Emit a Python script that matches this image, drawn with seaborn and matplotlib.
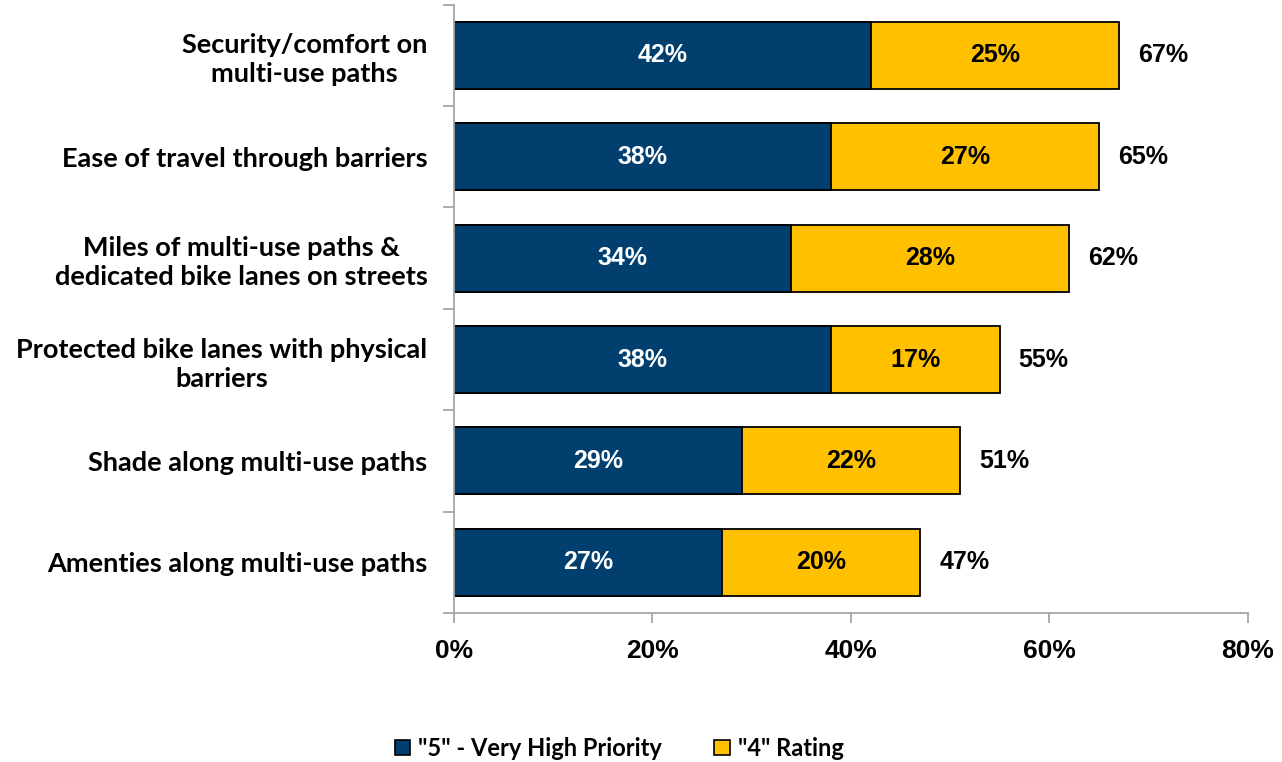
import matplotlib
matplotlib.use("Agg")
import matplotlib.pyplot as plt
import seaborn as sns
import pandas as pd
from matplotlib.patches import Patch
from matplotlib.ticker import FixedLocator

categories = [
    "Security/comfort on\nmulti-use paths",
    "Ease of travel through barriers",
    "Miles of multi-use paths &\ndedicated bike lanes on streets",
    "Protected bike lanes with physical\nbarriers",
    "Shade along multi-use paths",
    "Amenties along multi-use paths",
]
very_high = [42, 38, 34, 38, 29, 27]
rating4 = [25, 27, 28, 17, 22, 20]
totals = [67, 65, 62, 55, 51, 47]
x_ticks = [0, 20, 40, 60, 80]

NAVY = "#003F6E"
GOLD = "#FFC000"
AXIS_GRAY = "#A6A6A6"

df = pd.DataFrame({"category": categories, "very_high": very_high,
                   "rating4": rating4, "total": totals})

sns.set_theme(style="white")
plt.rcParams["font.family"] = ["Liberation Sans", "DejaVu Sans"]
plt.rcParams["text.color"] = "black"
plt.rcParams["xtick.labelcolor"] = "black"
plt.rcParams["ytick.labelcolor"] = "black"

fig = plt.figure(figsize=(12.82, 7.62), dpi=100)
ax = fig.add_axes([0.354, 0.1955, 0.6195, 0.7985])

sns.barplot(data=df, y="category", x="total", color=GOLD, orient="h",
            width=0.66, edgecolor="black", linewidth=1.3, saturation=1, ax=ax)
sns.barplot(data=df, y="category", x="very_high", color=NAVY, orient="h",
            width=0.66, edgecolor="black", linewidth=1.3, saturation=1, ax=ax)

ax.set_xlim(0, 80)
ax.set_ylim(len(categories) - 0.5, -0.5)
ax.set_xlabel("")
ax.set_ylabel("")

# Segment and total labels
for i in range(len(categories)):
    ax.text(very_high[i] / 2, i, f"{very_high[i]}%", ha="center", va="center",
            color="white", fontsize=18, fontweight="bold")
    ax.text(very_high[i] + rating4[i] / 2, i, f"{rating4[i]}%", ha="center",
            va="center", color="black", fontsize=18, fontweight="bold")
    ax.text(totals[i] + 1.9, i, f"{totals[i]}%", ha="left", va="center",
            color="black", fontsize=18, fontweight="bold")

# Axes styling
for side in ("top", "right"):
    ax.spines[side].set_visible(False)
for side in ("left", "bottom"):
    ax.spines[side].set_color(AXIS_GRAY)
    ax.spines[side].set_linewidth(1.3)

ax.set_xticks(x_ticks)
ax.set_xticklabels([f"{t}%" for t in x_ticks], fontsize=19, fontweight="bold")
ax.tick_params(axis="x", direction="out", length=7, width=1.3, color=AXIS_GRAY,
               bottom=True, pad=12, labelcolor="black")

ax.set_yticks(range(len(categories)))
ax.set_yticklabels(categories, fontsize=19.5, fontweight="bold",
                   family=["Lato", "DejaVu Sans"], linespacing=1.25,
                   multialignment="center")
ax.tick_params(axis="y", which="major", length=0, pad=19, labelcolor="black")
ax.yaxis.set_minor_locator(FixedLocator([i - 0.5 for i in range(len(categories) + 1)]))
ax.tick_params(axis="y", which="minor", direction="out", length=8, width=1.3,
               color=AXIS_GRAY, left=True)

handles = [Patch(facecolor=NAVY, edgecolor="black", linewidth=1.2),
           Patch(facecolor=GOLD, edgecolor="black", linewidth=1.2)]
fig.legend(handles, ['"5" - Very High Priority', '"4" Rating'],
           loc="center", bbox_to_anchor=(0.483, 0.018), ncol=2, frameon=False,
           prop={"family": ["Lato", "DejaVu Sans"], "weight": "bold", "size": 17},
           handlelength=0.65, handleheight=0.65, handletextpad=0.35, columnspacing=2.2)

fig.savefig("out.png", dpi=100)
